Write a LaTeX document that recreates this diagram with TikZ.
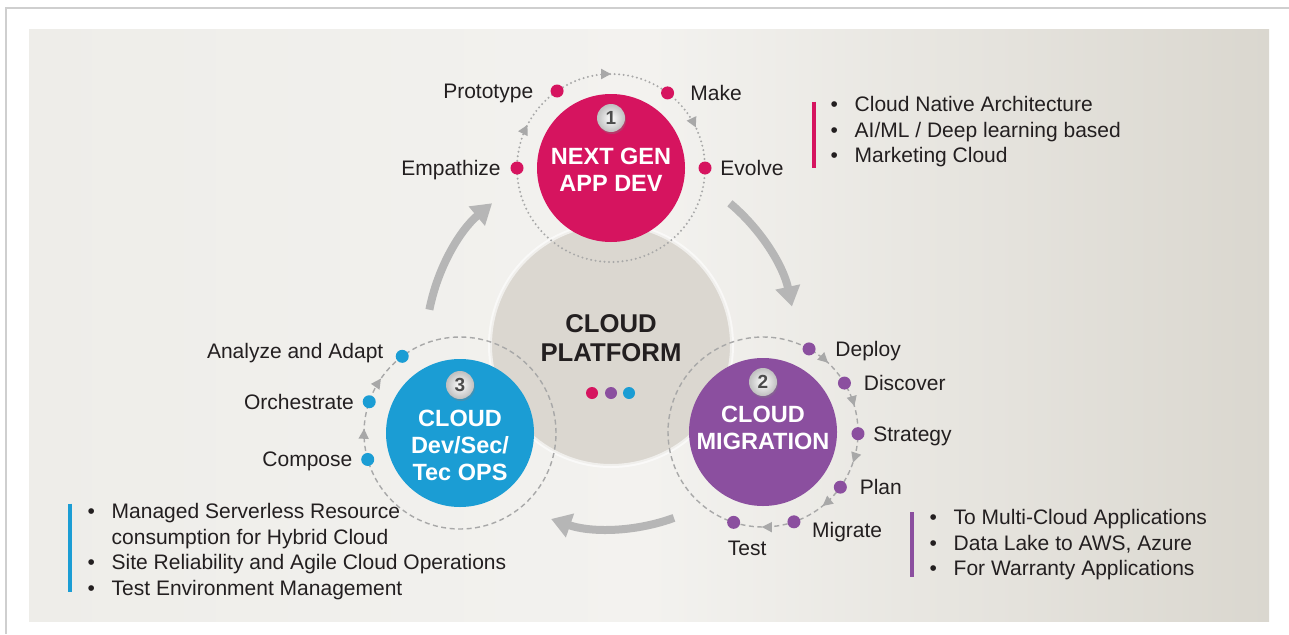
\documentclass[tikz,border=0pt]{standalone}
\usepackage{fontspec}
\setmainfont{Liberation Sans}
\usetikzlibrary{positioning,arrows.meta,decorations.markings,shadows}

\definecolor{pinkc}{HTML}{D6145F}
\definecolor{purplec}{HTML}{8B4F9F}
\definecolor{bluec}{HTML}{1B9DD4}
\definecolor{ringc}{HTML}{A8A8A8}
\definecolor{arrowc}{HTML}{B6B6B6}
\definecolor{platc}{HTML}{DBD7D0}
\definecolor{txt}{HTML}{231F20}
\definecolor{framec}{HTML}{CFCFCF}
\definecolor{bgl}{HTML}{EEEDE9}
\definecolor{bgm}{HTML}{F3F2EF}
\definecolor{bgr}{HTML}{DAD7CF}

\newcommand{\blitem}[1]{\makebox[24pt][l]{\textbullet}#1}

\tikzset{
  hub/.style={circle, fill=#1, inner sep=0pt, minimum size=148pt},
  ringdot/.style={circle, fill=#1, inner sep=0pt, minimum size=13pt},
  lbl/.style={font=\fontsize{21}{25}\selectfont, text=txt, inner sep=0pt, text height=15pt, text depth=0pt},
  hubtitle/.style={font=\fontsize{23.5}{27}\selectfont\bfseries, text=white, align=center, inner sep=0pt},
  badge/.style={circle, inner sep=0pt, minimum size=28pt, inner color=white, outer color=black!25,
    drop shadow={opacity=.35, shadow xshift=1pt, shadow yshift=-2pt},
    font=\fontsize{19}{19}\selectfont\bfseries, text=black!70},
  blist/.style={font=\fontsize{21}{25.5}\selectfont, text=txt, align=left, inner sep=0pt, anchor=north west},
  bar/.style={line width=3.5pt, draw=#1},
  dashring/.style={draw=ringc, line width=1.4pt, dash pattern=on 5pt off 3.5pt},
  dotring/.style={draw=ringc, line width=2.2pt, dash pattern=on 0pt off 4.5pt, line cap=round},
  turn/.style={draw=arrowc, line width=8pt, -{Triangle[length=20pt,width=24pt]}}
}

\begin{document}
\begin{tikzpicture}[x=1pt,y=1pt]
\useasboundingbox (0,0) rectangle (1289,-634);
\draw[framec, line width=2pt] (1289,-8) -- (6,-8) -- (6,-634);
\shade[left color=bgl, right color=bgr, middle color=bgm] (29,-30) rectangle (1269,-621);

\node[circle, fill=platc, draw=white, draw opacity=.6, line width=4pt, minimum size=242pt] (platform) at (611,-345) {};
\node[font=\fontsize{25.7}{29}\selectfont\bfseries, text=txt, align=center, inner sep=0pt] (plattitle)
  at ([yshift=6.5pt]platform.center) {CLOUD\\PLATFORM};
\node[ringdot=pinkc, minimum size=12pt] (pdot1) at ([shift={(-19pt,-48pt)}]platform.center) {};
\node[ringdot=purplec, minimum size=12pt] (pdot2) at ([yshift=-48pt]platform.center) {};
\node[ringdot=bluec, minimum size=12pt] (pdot3) at ([shift={(18pt,-48pt)}]platform.center) {};

\coordinate (c1) at (611,-168);
\coordinate (c2) at (763,-432);
\coordinate (c3) at (460,-433);

\draw[dotring, postaction={decorate}, decoration={markings,
  mark=at position 0.071 with {\arrowreversed{Triangle[length=10pt,width=10pt]}},
  mark=at position 0.25 with {\arrowreversed{Triangle[length=10pt,width=10pt]}},
  mark=at position 0.424 with {\arrowreversed{Triangle[length=10pt,width=10pt]}}}] (c1) circle[radius=94pt];
\draw[dashring, postaction={decorate}, decoration={markings,
  mark=at position 0.044 with {\arrowreversed{Triangle[length=10pt,width=10pt]}},
  mark=at position 0.130 with {\arrowreversed{Triangle[length=10pt,width=10pt]}},
  mark=at position 0.748 with {\arrowreversed{Triangle[length=10pt,width=10pt]}},
  mark=at position 0.858 with {\arrowreversed{Triangle[length=10pt,width=10pt]}},
  mark=at position 0.948 with {\arrowreversed{Triangle[length=10pt,width=10pt]}}}] (c2) circle[radius=95pt];
\draw[dashring, postaction={decorate}, decoration={markings,
  mark=at position 0.404 with {\arrowreversed{Triangle[length=10pt,width=10pt]}},
  mark=at position 0.493 with {\arrowreversed{Triangle[length=10pt,width=10pt]}}}] (c3) circle[radius=96pt];

\node[hub=pinkc] (appdev) at (c1) {};
\node[hub=purplec] (migration) at (c2) {};
\node[hub=bluec] (devops) at (c3) {};

\node[ringdot=pinkc] (emp) at ([shift={(180:94pt)}]c1) {};
\node[ringdot=pinkc] (proto) at ([shift={(125:94pt)}]c1) {};
\node[ringdot=pinkc] (make) at ([shift={(53:94pt)}]c1) {};
\node[ringdot=pinkc] (evolve) at ([shift={(0:94pt)}]c1) {};
\node[lbl, left=9.5pt of emp] (emplbl) {Empathize};
\node[lbl, left=17pt of proto] (protolbl) {Prototype};
\node[lbl, right=16pt of make] (makelbl) {Make};
\node[lbl, right=8.5pt of evolve] (evolvelbl) {Evolve};

\node[ringdot=purplec] (deploy) at ([shift={(61:95pt)}]c2) {};
\node[ringdot=purplec] (discover) at ([shift={(31:95pt)}]c2) {};
\node[ringdot=purplec] (strategy) at ([shift={(-1:95pt)}]c2) {};
\node[ringdot=purplec] (plan) at ([shift={(-35.5:95pt)}]c2) {};
\node[ringdot=purplec] (migrate) at ([shift={(-71:95pt)}]c2) {};
\node[ringdot=purplec] (test) at ([shift={(-108:95pt)}]c2) {};
\node[lbl, right=19.5pt of deploy] (deploylbl) {Deploy};
\node[lbl, right=12.5pt of discover] (discoverlbl) {Discover};
\node[lbl, right=8.5pt of strategy] (strategylbl) {Strategy};
\node[lbl, right=12.5pt of plan] (planlbl) {Plan};
\node[lbl, anchor=west] (migratelbl) at ([shift={(18pt,-8pt)}]migrate.center) {Migrate};
\node[lbl] (testlbl) at ([shift={(13.5pt,-25.5pt)}]test.center) {Test};

\node[ringdot=bluec] (compose) at ([shift={(196:96pt)}]c3) {};
\node[ringdot=bluec] (orch) at ([shift={(161:96pt)}]c3) {};
\node[ringdot=bluec] (adapt) at ([shift={(127:96pt)}]c3) {};
\node[lbl, left=8.5pt of compose] (composelbl) {Compose};
\node[lbl, left=8.5pt of orch] (orchlbl) {Orchestrate};
\node[lbl, left=12pt of adapt, yshift=5pt] (adaptlbl) {Analyze and Adapt};

\draw[turn] ([shift={(169:185pt)}]platform.center) arc[start angle=169, end angle=130, radius=185pt];
\draw[turn] ([shift={(50:185pt)}]platform.center) arc[start angle=50, end angle=12, radius=185pt];
\draw[turn] ([shift={(-70:184pt)}]platform.center) arc[start angle=-70, end angle=-109, radius=184pt];

\node[hubtitle] (apptitle) at ([yshift=-2pt]appdev.center) {NEXT GEN\\APP DEV};
\node[hubtitle] (migtitle) at ([yshift=4.5pt]migration.center) {CLOUD\\MIGRATION};
\node[hubtitle] (opstitle) at ([yshift=-12pt]devops.center) {CLOUD\\Dev/Sec/\\Tec OPS};
\node[badge] (badge1) at ([yshift=50pt]appdev.center) {1};
\node[badge] (badge2) at ([yshift=50pt]migration.center) {2};
\node[badge] (badge3) at ([yshift=48pt]devops.center) {3};

\node[blist] (applist) at (830.5,-96.5) {\blitem{Cloud Native Architecture}\\\blitem{AI/ML / Deep learning based}\\\blitem{Marketing Cloud}};
\node[blist] (miglist) at (929.5,-509.5) {\blitem{To Multi-Cloud Applications}\\\blitem{Data Lake to AWS, Azure}\\\blitem{For Warranty Applications}};
\node[blist] (opslist) at (87.5,-503.5) {\blitem{Managed Serverless Resource}\\\hspace*{24pt}consumption for Hybrid Cloud\\\blitem{Site Reliability and Agile Cloud Operations}\\\blitem{Test Environment Management}};
\draw[bar=pinkc] ([shift={(-16.5pt,-5pt)}]applist.north west) -- ([shift={(-16.5pt,-1pt)}]applist.south west);
\draw[bar=purplec] ([shift={(-17.5pt,-2.5pt)}]miglist.north west) -- ([shift={(-17.5pt,3pt)}]miglist.south west);
\draw[bar=bluec] ([shift={(-17.5pt,0pt)}]opslist.north west) -- ([shift={(-17.5pt,8pt)}]opslist.south west);
\end{tikzpicture}
\end{document}
